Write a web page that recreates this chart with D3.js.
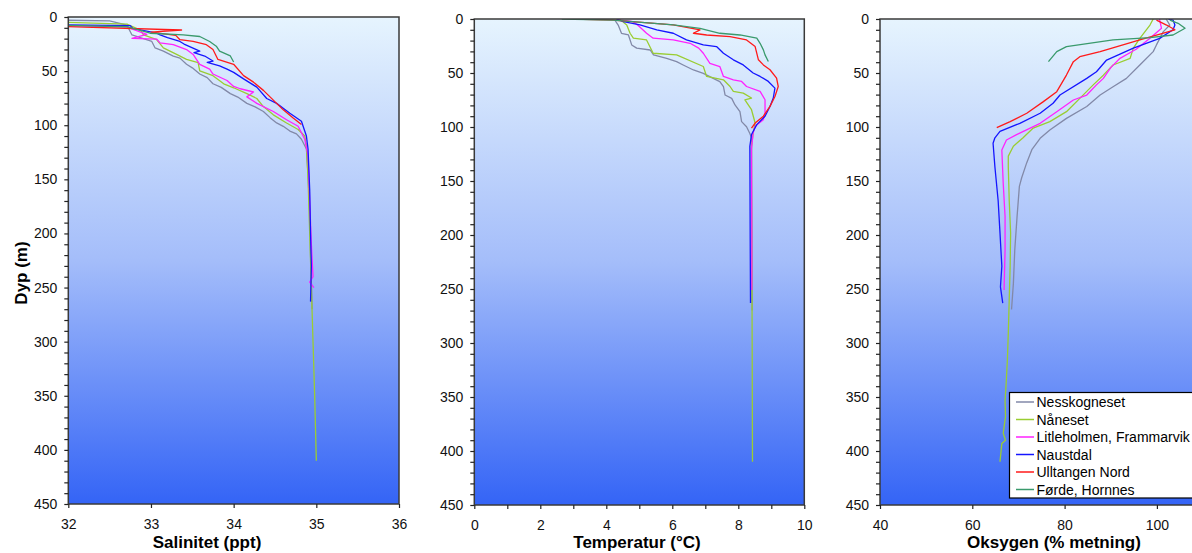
<!DOCTYPE html>
<html><head><meta charset="utf-8">
<script src="https://cdn.jsdelivr.net/npm/d3@7"></script>
<style>body{margin:0;background:#fff}svg{display:block}text{font-family:Arial,"Liberation Sans",sans-serif}</style>
</head><body><svg id="c" width="1192" height="553"></svg>
<script>
const stations = ["Nesskogneset","Nåneset","Litleholmen, Frammarvik","Naustdal","Ulltangen Nord","Førde, Hornnes"];
const colors = ["#8289a8","#9acd32","#ff22ff","#1515ff","#ff1a1a","#3a9a6c"];

// [value, depth]
const salNesskogneset = [[31.6,2.5],[32.5,3.6],[32.71,7.5],[32.77,16.6],[33.01,22.6],[33.05,28.6],[33.15,31.6],[33.27,36.1],[33.35,38],[33.43,43.7],[33.50,47],[33.59,52.7],[33.68,56],[33.75,61.7],[33.85,65],[33.96,70.8],[34.05,74],[34.16,79.8],[34.26,83],[34.36,87.3],[34.44,93],[34.52,97.9],[34.60,101],[34.68,105.4],[34.76,108],[34.82,113],[34.88,122],[34.90,146],[34.92,180],[34.93,220],[34.95,270]];
const salNaneset = [[31.6,4],[32.71,6.5],[32.87,12],[32.91,16.6],[33.07,21],[33.15,28.6],[33.31,34.6],[33.43,39.2],[33.57,42.2],[33.59,49.7],[33.75,54.2],[33.88,61.7],[34.0,65.4],[34.16,70.8],[34.28,75.3],[34.36,82.8],[34.48,90.4],[34.64,97.9],[34.78,103.9],[34.86,110],[34.88,119],[34.90,150],[34.92,200],[34.94,250],[34.96,300],[34.98,350],[34.99,380],[35.0,410]];
const salLitleholmen = [[31.6,7.5],[32.7,9],[32.8,12],[32.95,16],[32.77,19.7],[33.07,20.5],[33.11,24],[33.27,25.6],[33.43,30.1],[33.51,34.6],[33.59,43.7],[33.71,48.2],[33.75,52.7],[33.92,58.7],[34.0,64.2],[34.08,66.3],[34.24,69.3],[34.16,73.8],[34.28,79.8],[34.48,87.3],[34.64,94.9],[34.78,100.9],[34.86,113],[34.90,128],[34.92,170],[34.94,210],[34.96,240],[34.92,245],[34.97,250]];
const salNaustdal = [[31.6,7],[32.75,8],[32.78,10.5],[33.07,15],[33.11,16.6],[33.20,19],[33.35,22.6],[33.40,25],[33.59,31.6],[33.52,33],[33.65,36.1],[33.75,40.7],[33.68,42],[33.83,45.2],[33.92,48.2],[34.0,51.2],[34.12,57.2],[34.28,64.8],[34.40,75.3],[34.52,79.8],[34.68,88.9],[34.82,96.4],[34.88,110],[34.90,122],[34.92,160],[34.93,200],[34.94,230],[34.93,263]];
const salUlltangen = [[31.6,8.5],[32.0,8.9],[33.37,12],[33.0,14],[33.3,17],[33.35,21],[33.51,22.6],[33.67,25.6],[33.75,30.1],[33.81,39.2],[34.0,43.7],[34.12,54.2],[34.24,60.2],[34.36,67.8],[34.48,76.8],[34.60,85.8],[34.72,93.4],[34.82,99.4]];
const salForde = [[31.6,7],[32.71,9],[32.99,15],[33.39,16.6],[33.59,18],[33.71,22.6],[33.79,27],[33.83,31.6],[33.96,36],[34.0,41.6]];

const tempNesskogneset = [[4.26,1],[4.36,5.6],[4.46,13.3],[4.67,14.8],[4.77,24],[4.92,27],[5.33,28.7],[5.43,33.3],[5.83,36.4],[6.13,39.5],[6.33,42.6],[6.64,47.2],[6.94,50.3],[7.24,55],[7.44,58],[7.55,62.7],[7.60,70.4],[7.80,73.5],[7.90,79.6],[8.05,85.8],[8.10,95],[8.25,99.7],[8.35,106],[8.40,110],[8.40,150],[8.41,200],[8.42,270]];
const tempNaneset = [[4.4,0],[4.62,5.5],[4.72,13.2],[4.82,17.8],[5.22,19.4],[5.42,31.7],[6.13,33.2],[6.94,44],[7.04,53.2],[7.55,56.3],[7.75,62.5],[7.85,67],[8.15,68.6],[8.40,73.2],[8.20,74.8],[8.40,84],[8.51,96.3],[8.45,105.5],[8.40,118],[8.41,200],[8.42,300],[8.43,410]];
const tempLitleholmen = [[4.35,0],[4.41,1],[4.82,2.5],[5.0,7],[5.22,13.2],[5.42,17.8],[6.03,19.4],[6.54,22.5],[6.8,27],[6.94,31.7],[7.14,41],[7.44,44],[7.55,53.2],[7.85,56.3],[8.10,57.8],[8.25,62.5],[8.66,67],[8.81,74.8],[8.81,87],[8.76,93.2],[8.51,99.4],[8.45,105.5],[8.40,120],[8.41,200],[8.41,251]];
const tempNaustdal = [[4.3,0],[4.52,2.5],[5.02,5.5],[5.53,10],[6.03,13.2],[6.43,19.4],[6.94,24],[7.34,25.5],[7.55,31.7],[7.85,37.8],[8.15,42.5],[8.45,50],[8.66,53.2],[8.91,57.8],[9.11,64],[9.06,73.2],[8.96,81],[8.81,90],[8.56,97.8],[8.40,107],[8.35,118],[8.36,200],[8.37,263]];
const tempUlltangen = [[3.0,0],[4.21,1],[6.03,5.5],[6.84,10],[6.64,13.2],[7.04,14.8],[7.75,16.3],[8.25,19.4],[8.51,25.5],[8.61,37.8],[8.76,42.5],[8.96,47],[9.16,54.8],[9.21,62.5],[9.11,71.7],[8.96,80.9],[8.76,90],[8.51,96.3],[8.40,101]];
const tempForde = [[2.65,0],[4.21,1],[6.03,5.5],[6.84,8.6],[7.44,13.2],[8.05,14.8],[8.56,17.8],[8.66,22.5],[8.76,28.6],[8.81,33.2],[8.91,39.4]];

const oxyNesskogneset = [[102.0,0],[102.8,5.6],[101.4,11.7],[99.9,24],[99.2,30.2],[96.3,42.6],[93.4,55],[90.5,62.7],[87.7,70.4],[84.8,81],[80.4,92],[76.8,102.8],[74.7,110.5],[72.9,121],[71.8,133],[70.7,147],[70.2,155],[69.7,183],[69.2,214],[68.9,245],[68.5,269]];
const oxyNaneset = [[99.2,0],[98.5,5.6],[96.3,17.9],[94.9,27],[94.2,36.4],[90.5,42.6],[88.4,52],[86.2,61],[83.3,73.5],[80.4,85.8],[76.8,95],[73.2,101],[71.0,110],[68.9,117.8],[67.8,127],[67.8,137],[68.0,168],[68.3,198],[68.2,229],[68.0,260],[67.8,291],[67.6,316],[67.3,340],[67.1,353],[67.2,368],[66.7,383.6],[67.2,390],[66.4,393],[66.0,410]];
const oxyLitleholmen = [[100.6,0],[100.6,1],[101.0,8.6],[98.5,17.9],[95.5,28],[92.0,36.4],[90.0,45],[88.4,55],[86.9,61],[84.8,70.4],[81.9,75],[78.3,85.8],[74.7,96.6],[69.6,107],[67.4,112],[66.4,121.3],[66.7,152],[67.1,183],[67.1,214],[66.9,248],[66.9,251]];
const oxyNaustdal = [[102.5,0],[103.5,1],[103.9,5.6],[103.5,10],[100.6,17.9],[94.9,27],[89.1,38],[86.9,48.8],[84.8,55],[79.0,70.4],[77.5,78],[74.7,87.3],[70.3,96.6],[66.0,104],[64.9,110],[64.5,115],[64.9,137],[65.6,168],[66.0,198],[66.4,229],[66.1,248],[66.6,263]];
const oxyUlltangen = [[99.9,1],[102.1,5.6],[103.9,10],[96.3,19.4],[87.7,30.2],[83.3,34.9],[81.9,39.5],[80.4,51.9],[78.3,67.3],[75.4,76.5],[71.8,87.3],[68.2,95],[65.3,100.6]];
const oxyForde = [[102.8,1],[104.6,4],[106.1,8.6],[103.5,14.8],[98.5,17.3],[90.5,19.4],[80.4,25.6],[78.3,30.2],[76.5,39.5]];

const depthTicks = [0,50,100,150,200,250,300,350,400,450];
const salTicks = [32,33,34,35,36];
const tempTicks = [0,1,2,3,4,5,6,7,8,9,10];
const tempLabels = [0,2,4,6,8,10];
const oxyTicks = [40,60,80,100];

const panels = [
  {x:[68.3,399], y:[17,504], dom:[32,36], ticks:salTicks, labels:salTicks, title:"Salinitet (ppt)", tx:207, series:[salNesskogneset,salNaneset,salLitleholmen,salNaustdal,salUlltangen,salForde]},
  {x:[474.3,804.3], y:[19,505], dom:[0,10], ticks:tempTicks, labels:tempLabels, title:"Temperatur (°C)", tx:637, series:[tempNesskogneset,tempNaneset,tempLitleholmen,tempNaustdal,tempUlltangen,tempForde]},
  {x:[880,1249.2], y:[19,505], dom:[40,120], ticks:oxyTicks, labels:oxyTicks, title:"Oksygen (% metning)", tx:1054, series:[oxyNesskogneset,oxyNaneset,oxyLitleholmen,oxyNaustdal,oxyUlltangen,oxyForde]}
];

const svg = d3.select("#c");
const defs = svg.append("defs");
const grad = defs.append("linearGradient").attr("id","bg").attr("x1",0).attr("y1",0).attr("x2",0).attr("y2",1);
grad.append("stop").attr("offset","0%").attr("stop-color","#e6f4fe");
grad.append("stop").attr("offset","50%").attr("stop-color","#a4bdfa");
grad.append("stop").attr("offset","100%").attr("stop-color","#3464f6");

panels.forEach((p,pi)=>{
  const xs = d3.scaleLinear().domain(p.dom).range(p.x);
  const ys = d3.scaleLinear().domain([0,450]).range(p.y);
  const g = svg.append("g");
  const w = p.x[1]-p.x[0], h = p.y[1]-p.y[0];
  defs.append("clipPath").attr("id","clip"+pi).append("rect").attr("x",p.x[0]).attr("y",p.y[0]).attr("width",w).attr("height",h);
  g.append("rect").attr("x",p.x[0]).attr("y",p.y[0]).attr("width",w).attr("height",h).attr("fill","url(#bg)");
  const line = d3.line().x(d=>xs(d[0])).y(d=>ys(d[1]));
  const lg = g.append("g").attr("clip-path","url(#clip"+pi+")");
  p.series.forEach((s,i)=>{
    lg.append("path").attr("d",line(s)).attr("fill","none").attr("stroke",colors[i]).attr("stroke-width",1.3).attr("stroke-linejoin","round");
  });
  g.append("rect").attr("x",p.x[0]).attr("y",p.y[0]).attr("width",w).attr("height",h).attr("fill","none").attr("stroke","#3a3a3a").attr("stroke-width",1.5);
  const yAxis = d3.axisLeft(ys).tickValues(depthTicks).tickSize(4).tickPadding(7);
  const ya = g.append("g").attr("transform",`translate(${p.x[0]},0)`).call(yAxis);
  const yMinor = d3.axisLeft(ys).tickValues(d3.range(0,451,10).filter(v=>v%50)).tickSize(4).tickFormat("");
  const ym = g.append("g").attr("transform",`translate(${p.x[0]},0)`).call(yMinor);
  const xAxis = d3.axisBottom(xs).tickValues(p.ticks).tickSize(4).tickPadding(11).tickFormat(v=>p.labels.includes(v)?v:"");
  const xa = g.append("g").attr("transform",`translate(0,${p.y[1]})`).call(xAxis);
  [ya,ym,xa].forEach(a=>{
    a.select(".domain").remove();
    a.selectAll("line").attr("stroke","#222").attr("stroke-width",1.2);
    a.selectAll("text").attr("font-size",14).attr("fill","#111").style("font-family","Arial, 'Liberation Sans', sans-serif");
  });
  g.append("text").attr("x",p.tx).attr("y",548).attr("text-anchor","middle").attr("font-size",17).attr("font-weight","bold").attr("fill","#000").text(p.title);
});

svg.append("text").attr("transform","translate(27,273) rotate(-90)").attr("text-anchor","middle").attr("font-size",17).attr("font-weight","bold").text("Dyp (m)");

const leg = svg.append("g");
leg.append("rect").attr("x",1009.5).attr("y",392.5).attr("width",220).attr("height",105.5).attr("fill","#fff").attr("stroke","#000").attr("stroke-width",1.2);
stations.forEach((s,i)=>{
  const yy = 402 + i*17.5;
  leg.append("line").attr("x1",1016).attr("x2",1034).attr("y1",yy).attr("y2",yy).attr("stroke",colors[i]).attr("stroke-width",1.5);
  leg.append("text").attr("x",1036.5).attr("y",yy).attr("dy","0.36em").attr("font-size",14).attr("fill","#000").text(s);
});
</script></body></html>
